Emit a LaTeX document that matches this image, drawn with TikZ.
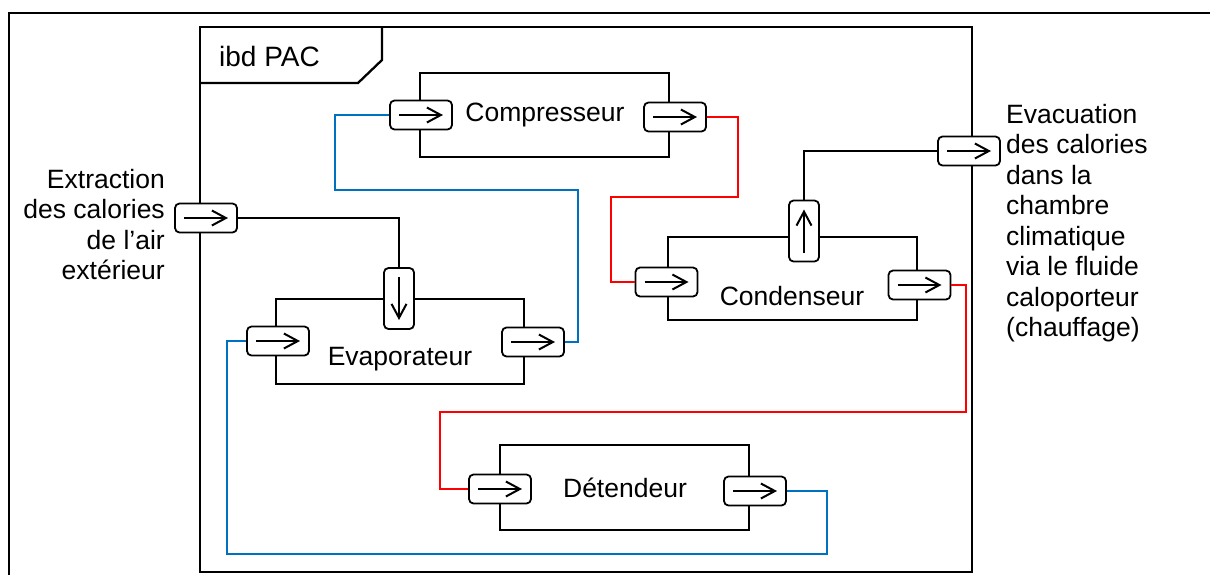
\documentclass[tikz,border=0pt]{standalone}
\usepackage{fontspec}
\setmainfont{Liberation Sans}
\usetikzlibrary{arrows.meta}
\definecolor{flowblue}{RGB}{0,112,192}
\definecolor{flowred}{RGB}{255,0,0}
\tikzset{
  txt/.style={inner sep=0pt, font=\fontsize{26.5}{30.5}\selectfont},
  frameline/.style={line width=2.3pt},
  block/.style={draw, line width=2.4pt, inner sep=0pt},
  portarrow/.style={line width=2pt, -{Straight Barb[length=14pt,width=15pt,line width=2pt]}},
  portbox/.style={draw, fill=white, rounded corners=4.5pt, line width=1.8pt, inner sep=0pt},
  hport/.style={portbox, minimum width=62pt, minimum height=29pt,
    path picture={\draw[portarrow] ([xshift=9pt]path picture bounding box.west) -- ([xshift=-9pt]path picture bounding box.east);}},
  dport/.style={portbox, minimum width=30pt, minimum height=61pt,
    path picture={\draw[portarrow] ([yshift=-9pt]path picture bounding box.north) -- ([yshift=9pt]path picture bounding box.south);}},
  uport/.style={portbox, minimum width=30pt, minimum height=61pt,
    path picture={\draw[portarrow] ([yshift=9pt]path picture bounding box.south) -- ([yshift=-9pt]path picture bounding box.north);}},
  flow/.style={line width=2.4pt, line join=miter},
  blueflow/.style={flow, draw=flowblue},
  redflow/.style={flow, draw=flowred},
  heatflow/.style={flow, draw=black},
}
\begin{document}
\begin{tikzpicture}[x=1pt, y=-1pt]
\useasboundingbox (0,0) rectangle (1210,574);

% outer diagram frame
\draw[line width=2pt] (1212,13) -- (9,13) -- (9,576);

% ibd frame with its name tab
\draw[frameline] (200,27) rectangle (972,572);
\draw[frameline] (200,83) -- (358,83) -- (382,60) -- (382,27);
\node[txt, font=\fontsize{28}{32}\selectfont, anchor=base west] (title) at (219,66) {ibd PAC};

% blocks
\node[block, minimum width=249pt, minimum height=84pt] (comp) at (544.5,115) {};
\node[block, minimum width=248pt, minimum height=85pt] (evap) at (400,341.5) {};
\node[block, minimum width=249pt, minimum height=83pt] (cond) at (792.5,278.5) {};
\node[block, minimum width=249pt, minimum height=85pt] (det) at (624.5,487.5) {};

\node[txt] (compL) at (545,115) {Compresseur};
\node[txt] (evapL) at (400,359) {Evaporateur};
\node[txt] (condL) at (792,296) {Condenseur};
\node[txt] (detL) at (625,488) {Détendeur};

% ports
\node[hport] (compIn) at (421,115) {};
\node[hport] (compOut) at (675,117) {};
\node[hport] (evapIn) at (278,341) {};
\node[hport] (evapOut) at (533,342) {};
\node[dport] (evapTop) at (399,298.5) {};
\node[hport] (condIn) at (666.5,282) {};
\node[hport] (condOut) at (919.5,285) {};
\node[uport] (condTop) at (804,231) {};
\node[hport] (detIn) at (500,489) {};
\node[hport] (detOut) at (755,491) {};
\node[hport] (extIn) at (206,218) {};
\node[hport] (evacOut) at (969,151) {};

% refrigerant circuit
\draw[blueflow] (compIn.west) -| (335,190) -| (578,342) -- (evapOut.east);
\draw[redflow] (compOut.east) -| (738,197) -| (611,282) -- (condIn.west);
\draw[redflow] (condOut.east) -| (966,412) -| (440,489) -- (detIn.west);
\draw[blueflow] (detOut.east) -| (827,554) -| (227,341) -- (evapIn.west);

% heat exchanged with the outside
\draw[heatflow] (extIn.east) -| (evapTop.north);
\draw[heatflow] (condTop.north) |- (evacOut.west);

% external flow labels (base anchor sits on the last line)
\node[txt, anchor=base east, align=right] (extL) at (165,279.5)
  {Extraction\\des calories\\de l’air\\extérieur};
\node[txt, anchor=base west, align=left] (evacL) at (1006,336.5)
  {Evacuation\\des calories\\dans la\\chambre\\climatique\\via le fluide\\caloporteur\\(chauffage)};
\end{tikzpicture}
\end{document}
